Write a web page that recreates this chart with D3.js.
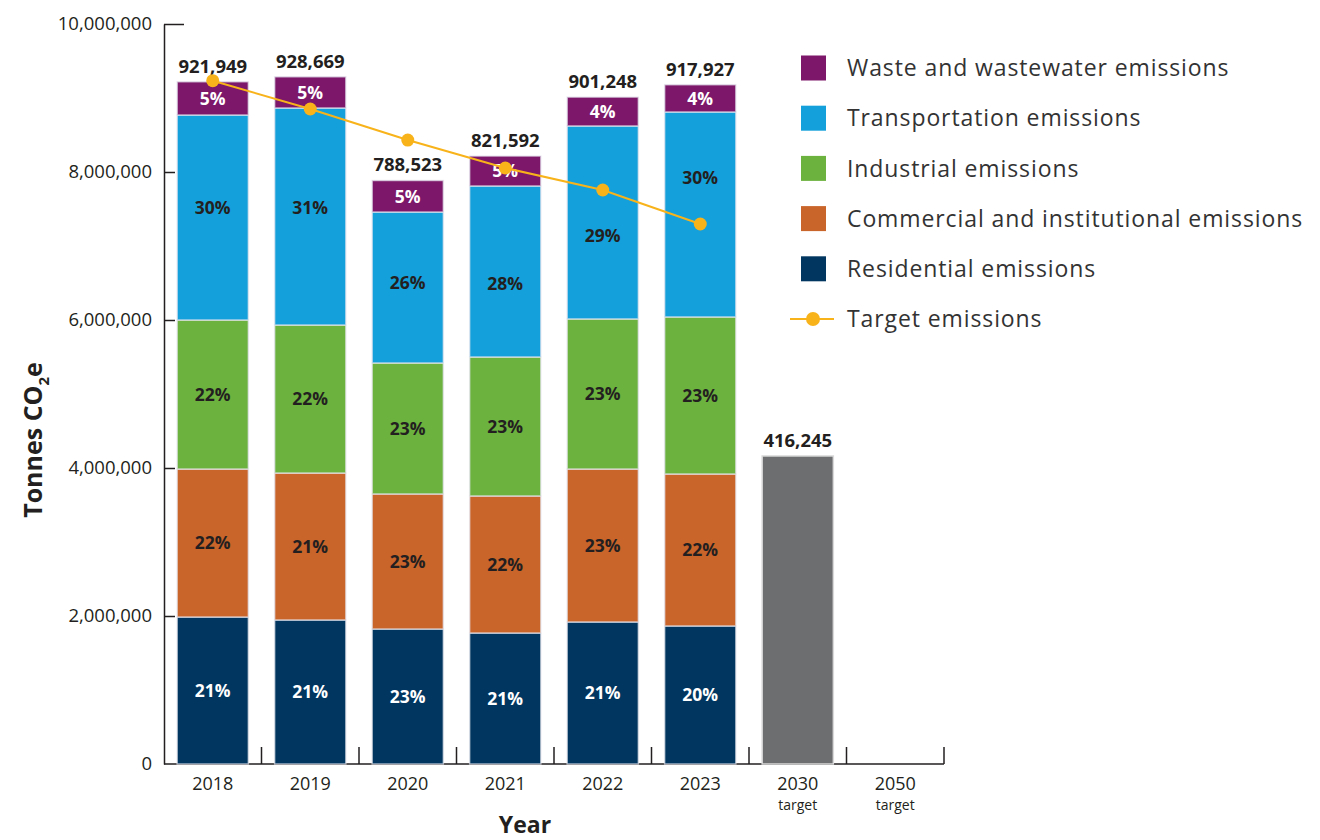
<!DOCTYPE html>
<html>
<head>
<meta charset="utf-8">
<script src="https://cdnjs.cloudflare.com/ajax/libs/d3/7.8.5/d3.min.js"></script>
<style>
  body { margin: 0; background: #fff; }
  text { font-family: "Open Sans", "Noto Sans", sans-serif; fill: #231f20; }
</style>
</head>
<body>
<div id="main"></div>
<script>
var years = ["2018", "2019", "2020", "2021", "2022", "2023", "2030", "2050"];
var yearNotes = ["", "", "", "", "", "", "target", "target"];
var seriesNames = ["Residential emissions", "Commercial and institutional emissions", "Industrial emissions", "Transportation emissions", "Waste and wastewater emissions"];
var residential = [1986000, 1946000, 1824000, 1770000, 1919000, 1865000];
var commercial = [2000000, 1986000, 1825000, 1852000, 2067000, 2054000];
var industrial = [2014000, 2000000, 1770000, 1878000, 2028000, 2122000];
var transportation = [2770000, 2933000, 2040000, 2311000, 2608000, 2770000];
var waste = [449490, 421690, 426230, 404920, 390480, 368270];
var residentialPct = ["21%", "21%", "23%", "21%", "21%", "20%"];
var commercialPct = ["22%", "21%", "23%", "22%", "23%", "22%"];
var industrialPct = ["22%", "22%", "23%", "23%", "23%", "23%"];
var transportationPct = ["30%", "31%", "26%", "28%", "29%", "30%"];
var wastePct = ["5%", "5%", "5%", "5%", "4%", "4%"];
var totalLabels = ["921,949", "928,669", "788,523", "821,592", "901,248", "917,927"];
var targetYears = ["2018", "2019", "2020", "2021", "2022", "2023"];
var targetValues = [9234000, 8851000, 8432000, 8054000, 7757000, 7297000];
var goalYear = "2030";
var goalValue = 4162450;
var goalLabel = "416,245";
var yTicks = [0, 2000000, 4000000, 6000000, 8000000, 10000000];

var colors = ["#00365f", "#c9642a", "#6cb23f", "#13a0db", "#7c1769"];
var pctColors = ["#fff", "#231f20", "#231f20", "#231f20", "#fff"];
var targetColor = "#f8b31b";
var transLabelFrac = [0.55, 0.54, 0.53, 0.43, 0.43, 0.68];//where the transportation % sits inside its segment

var canvas = d3.select("#main").append("svg")
  .attr("width", 1320)
  .attr("height", 840);//create canvas

var x = d3.scaleBand().domain(years).range([164, 944]).paddingInner(0.27).paddingOuter(0.135);
var y = d3.scaleLinear().domain([0, 10000000]).range([764, 24]);

// stacked data
var table = years.slice(0, 6).map(function(yr, i) {
  return { year: yr, s0: residential[i], s1: commercial[i], s2: industrial[i], s3: transportation[i], s4: waste[i],
    p0: residentialPct[i], p1: commercialPct[i], p2: industrialPct[i], p3: transportationPct[i], p4: wastePct[i] };
});
var stack = d3.stack().keys(["s0", "s1", "s2", "s3", "s4"])(table);

// x baseline and separator ticks
canvas.append("line")
  .attr("x1", 164).attr("x2", 944).attr("y1", 764).attr("y2", 764)
  .attr("stroke", "#231f20").attr("stroke-width", 1.5);
canvas.append("g").selectAll("line").data(d3.range(1, years.length + 1)).enter().append("line")
  .attr("x1", function(i) { return x.range()[0] + i * x.step(); })
  .attr("x2", function(i) { return x.range()[0] + i * x.step(); })
  .attr("y1", 764).attr("y2", 747)
  .attr("stroke", "#231f20").attr("stroke-width", 1.5);//draw category ticks

// y axis
var yAxis = d3.axisLeft(y).tickValues(yTicks).tickFormat(d3.format(",")).tickSizeInner(-11).tickSizeOuter(0).tickPadding(12);
var yg = canvas.append("g").attr("transform", "translate(164,0)").call(yAxis);
yg.select(".domain").attr("stroke", "#231f20").attr("stroke-width", 1.5);
yg.selectAll(".tick line").attr("stroke", "#231f20").attr("stroke-width", 1.5);
yg.selectAll(".tick line").filter(function(d) { return d === 10000000; }).attr("x2", 20);
yg.selectAll(".tick line").filter(function(d) { return d === 0; }).remove();
yg.selectAll(".tick text").style("font-size", "18.5px").style("font-family", "'Open Sans', sans-serif").attr("fill", "#231f20");

// stacked bars
var layers = canvas.append("g").selectAll("g").data(stack).enter().append("g")
  .attr("fill", function(d, i) { return colors[i]; });
layers.selectAll("rect").data(function(d) { return d; }).enter().append("rect")
  .attr("x", function(d) { return x(d.data.year); })
  .attr("width", x.bandwidth())
  .attr("y", function(d) { return y(d[1]); })
  .attr("height", function(d) { return y(d[0]) - y(d[1]); })
  .attr("stroke", "#e6e6ee")
  .attr("stroke-opacity", 0.7)
  .attr("stroke-width", 1.5);

// goal bar
canvas.append("rect")
  .attr("x", x(goalYear))
  .attr("width", x.bandwidth())
  .attr("y", y(goalValue))
  .attr("height", y(0) - y(goalValue))
  .attr("fill", "#6d6e70")
  .attr("stroke", "#d9d9d9").attr("stroke-width", 1.5);
canvas.append("text")
  .attr("x", x(goalYear) + x.bandwidth() / 2)
  .attr("y", y(goalValue) - 9)
  .attr("text-anchor", "middle")
  .style("font-size", "18.5px").style("font-weight", "bold")
  .text(goalLabel);

// percent labels
stack.forEach(function(layer, k) {
  canvas.append("g").selectAll("text").data(layer).enter().append("text")
    .attr("x", function(d) { return x(d.data.year) + x.bandwidth() / 2; })
    .attr("y", function(d, i) {
      var f = k === 3 ? transLabelFrac[i] : 0.5;
      return y(d[0] + (d[1] - d[0]) * f);
    })
    .attr("dy", ".36em")
    .attr("text-anchor", "middle")
    .style("font-size", "17.5px").style("font-weight", "bold")
    .style("fill", pctColors[k])
    .text(function(d) { return d.data["p" + k]; });
});

// total labels
canvas.append("g").selectAll("text").data(stack[4]).enter().append("text")
  .attr("x", function(d) { return x(d.data.year) + x.bandwidth() / 2; })
  .attr("y", function(d) { return y(d[1]) - 9; })
  .attr("text-anchor", "middle")
  .style("font-size", "18.5px").style("font-weight", "bold")
  .text(function(d, i) { return totalLabels[i]; });

// target line
var line = d3.line()
  .x(function(d, i) { return x(targetYears[i]) + x.bandwidth() / 2; })
  .y(function(d) { return y(d); });
canvas.append("path").datum(targetValues)
  .attr("d", line)
  .attr("fill", "none")
  .attr("stroke", targetColor)
  .attr("stroke-width", 2);
canvas.append("g").selectAll("circle").data(targetValues).enter().append("circle")
  .attr("cx", function(d, i) { return x(targetYears[i]) + x.bandwidth() / 2; })
  .attr("cy", function(d) { return y(d); })
  .attr("r", 6.5)
  .attr("fill", targetColor);

// x labels
canvas.append("g").selectAll("text").data(years).enter().append("text")
  .attr("x", function(d) { return x(d) + x.bandwidth() / 2; })
  .attr("y", 790)
  .attr("text-anchor", "middle")
  .style("font-size", "18px")
  .text(function(d) { return d; });
canvas.append("g").selectAll("text").data(years).enter().append("text")
  .attr("x", function(d) { return x(d) + x.bandwidth() / 2; })
  .attr("y", 810)
  .attr("text-anchor", "middle")
  .style("font-size", "14px")
  .text(function(d, i) { return yearNotes[i]; });

// axis titles
canvas.append("text")
  .attr("x", 525).attr("y", 833)
  .attr("text-anchor", "middle")
  .style("font-size", "23px").style("font-weight", "bold")
  .text("Year");
var yt = canvas.append("text")
  .attr("transform", "translate(42,440) rotate(-90)")
  .attr("text-anchor", "middle")
  .style("font-size", "25px").style("font-weight", "bold");
yt.append("tspan").text("Tonnes CO");
yt.append("tspan").attr("dy", 7).style("font-size", "15px").text("2");
yt.append("tspan").attr("dy", -7).text("e");

// legend
var legendItems = seriesNames.slice().reverse();
var legendColors = colors.slice().reverse();
var legend = canvas.selectAll(".legend").data(legendItems.concat(["Target emissions"])).enter().append("g")
  .attr("class", "legend")
  .attr("transform", function(d, i) { return "translate(0," + (68 + i * 50.2) + ")"; });//create a legend
legend.filter(function(d, i) { return i < 5; }).append("rect")
  .attr("x", 801).attr("y", -12.5)
  .attr("width", 25).attr("height", 25)
  .attr("fill", function(d, i) { return legendColors[i]; });
var tl = legend.filter(function(d, i) { return i === 5; });
tl.append("line").attr("x1", 790).attr("x2", 834).attr("y1", 0).attr("y2", 0)
  .attr("stroke", targetColor).attr("stroke-width", 2);
tl.append("circle").attr("cx", 813).attr("cy", 0).attr("r", 7).attr("fill", targetColor);
legend.append("text")
  .attr("x", 847)
  .attr("dy", ".36em")
  .style("font-size", "23px")
  .style("letter-spacing", "0.9px")
  .style("fill", "#333")
  .text(function(d) { return d; });//label the legend
</script>
</body>
</html>
